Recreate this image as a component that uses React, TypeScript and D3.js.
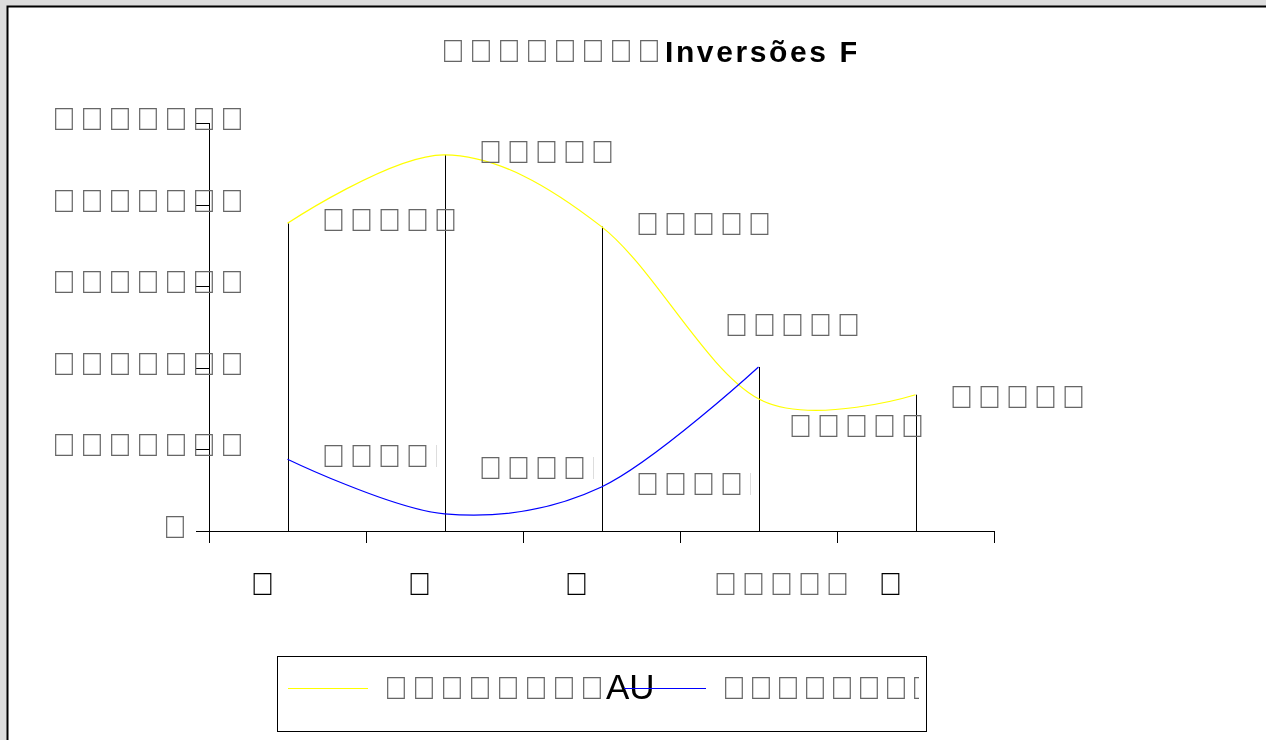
import React from 'react';
import * as d3 from 'd3';

// private-use glyph: no installed font has it, so it draws as an empty box like in the source picture
const NA = '\uE000';

const categories = ['c1', 'c2', 'c3', 'c4', 'c5'];
const categoryLabels = [NA, NA, NA, NA + NA + NA + NA + NA, NA];
const yTicks = [0, 1, 2, 3, 4, 5];
const yTickLabels = [NA, NA.repeat(7), NA.repeat(7), NA.repeat(7), NA.repeat(7), NA.repeat(7)];

const seriesNames = [NA.repeat(8) + 'AU', NA.repeat(8) + 'AU'];
const yellowValues = [3.77, 4.61, 3.73, 1.62, 1.67];
const blueValues: (number | null)[] = [0.88, 0.21, 0.54, 2.01, null];
const yellowLabels = [NA.repeat(5), NA.repeat(5), NA.repeat(5), NA.repeat(5), NA.repeat(5)];
const blueLabels = [NA.repeat(5), NA.repeat(5), NA.repeat(5), NA.repeat(5), NA.repeat(5)];
const titleText = NA.repeat(8) + 'Inversões Financeiras';

// label nudges (px) where labels were moved off the points
const yellowNudge = [[0, 0], [0, 0], [0, 0], [-4, 30], [0, 5]];
const blueNudge = [[0, 0], [0, -43], [0, 0], [-68, -39], [0, 0]];
// blue labels that are cut short by their box
const blueClipped = [true, true, true, false, false];

const W = 1266;
const H = 740;
const left = 209, right = 994, top = 123, bottom = 531;

const boxFont = { fontFamily: 'Liberation Sans', fontSize: 32, letterSpacing: 4, fill: '#666' };

export default function App() {
  const x = d3.scaleBand().domain(categories).range([left, right]).padding(0);
  const cx = (i: number) => (x(categories[i]) as number) + x.bandwidth() / 2;
  const y = d3.scaleLinear().domain([0, 5]).range([bottom, top]);

  const line = d3.line<[number, number]>().curve(d3.curveCardinal.tension(0));
  const yellowPts = yellowValues.map((v, i) => [cx(i), y(v)] as [number, number]);
  const bluePts = blueValues
    .map((v, i) => (v == null ? null : ([cx(i), y(v)] as [number, number])))
    .filter(Boolean) as [number, number][];

  const bounds = [...categories.map(c => x(c) as number), right];

  return (
    <div style={{ position: 'fixed', left: 0, top: 0, width: W, height: H, background: '#dddddd' }}>
      <svg width={W} height={H} style={{ display: 'block', willChange: 'transform' }}>
        <defs>
          <clipPath id="titleClip"><rect x={0} y={0} width={856} height={100} /></clipPath>
          <clipPath id="legendClip"><rect x={0} y={600} width={919} height={140} /></clipPath>
          {blueValues.map((v, i) => (
            <clipPath id={'bc' + i} key={i}>
              <rect x={cx(i) + 34 + blueNudge[i][0]} y={0} width={115} height={H} />
            </clipPath>
          ))}
        </defs>
        <rect x={7.5} y={6.5} width={W} height={H} fill="#fff" stroke="#000" strokeWidth={2} />

        <text x={441} y={62} clipPath="url(#titleClip)">
          <tspan style={boxFont}>{titleText.slice(0, 8)}</tspan>
          <tspan fill="#000" style={{ fontFamily: 'Liberation Sans', fontSize: 30, fontWeight: 'bold', letterSpacing: 2.6 }}>{titleText.slice(8)}</tspan>
        </text>

        {/* axes */}
        <line x1={left + 0.5} x2={left + 0.5} y1={top} y2={bottom + 12} stroke="#000" />
        <line x1={left - 13} x2={right} y1={bottom + 0.5} y2={bottom + 0.5} stroke="#000" />
        {yTicks.map((t, i) => (
          <g key={t}>
            <line x1={left - 13} x2={left} y1={Math.round(y(t)) + 0.5} y2={Math.round(y(t)) + 0.5} stroke="#000" />
            <text x={i === 0 ? 163 : 52} y={y(t) + 7} style={boxFont}>{yTickLabels[i]}</text>
          </g>
        ))}
        {bounds.map((b, i) => (
          <line key={i} x1={Math.round(b) + 0.5} x2={Math.round(b) + 0.5} y1={bottom} y2={bottom + 12} stroke="#000" />
        ))}
        {categoryLabels.map((c, i) => (
          <text key={i} x={cx(i) - (i === 3 ? 45 : 37)} y={595} style={{ ...boxFont, fill: i === 3 ? '#666' : '#000' }}>{c}</text>
        ))}

        {/* drop lines */}
        {yellowValues.map((v, i) => {
          const m = Math.max(v, blueValues[i] ?? 0);
          return <line key={i} x1={Math.round(cx(i)) + 0.5} x2={Math.round(cx(i)) + 0.5} y1={y(m)} y2={bottom} stroke="#000" />;
        })}

        <path d={line(yellowPts) || ''} fill="none" stroke="#ffff00" strokeWidth={1.2} />
        <path d={line(bluePts) || ''} fill="none" stroke="#0000ff" strokeWidth={1.2} />

        {yellowValues.map((v, i) => (
          <text key={i} x={cx(i) + 34 + yellowNudge[i][0]} y={y(v) + 8 + yellowNudge[i][1]} style={boxFont}>{yellowLabels[i]}</text>
        ))}
        {blueValues.map((v, i) => v == null ? null : (
          <text key={i} x={cx(i) + 34 + blueNudge[i][0]} y={y(v) + 8 + blueNudge[i][1]}
            clipPath={blueClipped[i] ? `url(#bc${i})` : undefined} style={boxFont}>{blueLabels[i]}</text>
        ))}

        {/* legend */}
        <rect x={277.5} y={656.5} width={649} height={75} fill="none" stroke="#000" />
        <g clipPath="url(#legendClip)">
          <line x1={288} x2={368} y1={688.5} y2={688.5} stroke="#ffff00" strokeWidth={1.2} />
          <text x={384} y={699}>
            <tspan style={boxFont}>{seriesNames[0].slice(0, 8)}</tspan>
            <tspan fill="#000" dx={-2} style={{ fontFamily: 'Liberation Sans', fontSize: 35 }}>{seriesNames[0].slice(8)}</tspan>
          </text>
          <line x1={624} x2={706} y1={688.5} y2={688.5} stroke="#0000ff" strokeWidth={1.2} />
          <text x={722} y={699} style={{ ...boxFont, letterSpacing: 3 }}>{seriesNames[1]}</text>
        </g>
      </svg>
    </div>
  );
}
